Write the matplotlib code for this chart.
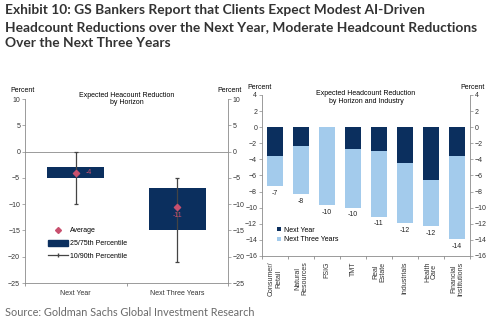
import numpy as np
import matplotlib
matplotlib.use("Agg")
import matplotlib.pyplot as plt
from matplotlib.lines import Line2D
from matplotlib.patches import Patch

# Left panel: distribution by horizon
horizons = ["Next Year", "Next Three Years"]
p25 = [-3, -7]
p75 = [-5, -15]
p10 = [0, -5]
p90 = [-10, -21]
avg = [-4.0, -10.6]
avg_labels = ["-4", "-11"]

# Right panel: by industry
industries = ["Consumer/\nRetail", "Natural\nResources", "FSIG", "TMT", "Real\nEstate",
              "Industrials", "Health\nCare", "Financial\nInstitutions"]
next_year = [-3.6, -2.3, 0.0, -2.7, -3.0, -4.5, -6.5, -3.6]
next_three = [-7.3, -8.3, -9.7, -10.0, -11.1, -11.9, -12.3, -13.9]
three_labels = ["-7", "-8", "-10", "-10", "-11", "-12", "-12", "-14"]

NAVY = "#0b2f5e"
LIGHT = "#a3cbec"
PINK = "#c8506e"
AX = "#8a8a8a"
SMALL = 5.0

plt.rcParams['font.family'] = ['Liberation Sans', 'DejaVu Sans']

fig = plt.figure(figsize=(5.0, 3.24), dpi=100)

fig.text(0.01, 0.988, "Exhibit 10: GS Bankers Report that Clients Expect Modest AI-Driven\n"
         "Headcount Reductions over the Next Year, Moderate Headcount Reductions\n"
         "Over the Next Three Years", family="Lato", weight="bold", fontsize=9.9,
         color="#333333", va="top", ha="left", linespacing=1.48)
fig.text(0.01, 0.035, "Source: Goldman Sachs Global Investment Research", family="Lato",
         fontsize=7.8, color="#6a6a6a", va="center", ha="left")


def style(ax):
    ax.spines["top"].set_visible(False)
    for s in ["left", "right", "bottom"]:
        ax.spines[s].set_color(AX)
        ax.spines[s].set_linewidth(0.6)
    ax.tick_params(axis="both", labelsize=SMALL, colors="#333333", length=2, width=0.5,
                   color=AX, pad=1.5)
    ax.tick_params(axis="y", left=True, right=True, labelleft=True, labelright=True)


# ---- left panel
ax1 = fig.add_axes([0.05, 0.1265, 0.406, 0.5675])
style(ax1)
x = np.arange(len(horizons))
ax1.axhline(0, color=AX, lw=0.6)
ax1.bar(x, np.array(p75) - np.array(p25), bottom=p25, width=0.56, color=NAVY, zorder=2)
ax1.errorbar(x, [(a + b) / 2 for a, b in zip(p10, p90)],
             yerr=[(a - b) / 2 for a, b in zip(p10, p90)], fmt="none", ecolor="#444444",
             elinewidth=0.9, capsize=1.5, capthick=0.9, zorder=3)
ax1.scatter(x, avg, marker="D", s=10, color=PINK, zorder=4)
ax1.text(x[0] + 0.1, avg[0], avg_labels[0], color=PINK, fontsize=SMALL, va="center", ha="left")
ax1.text(x[1], avg[1] - 1.6, avg_labels[1], color=PINK, fontsize=SMALL, va="center", ha="center")
ax1.set_xlim(-0.5, 1.5)
ax1.set_ylim(-25, 10)
ax1.set_yticks(np.arange(-25, 11, 5))
ax1.set_xticks(x)
ax1.set_xticklabels(horizons)
ax1.set_xticks([-0.5, 0.5, 1.5], minor=True)
ax1.tick_params(axis="x", which="major", length=0, pad=5)
ax1.tick_params(axis="x", which="minor", length=2, color=AX)
ax1.text(-0.07, 1.04, "Percent", transform=ax1.transAxes, fontsize=SMALL, ha="left")
ax1.text(1.07, 1.04, "Percent", transform=ax1.transAxes, fontsize=SMALL, ha="right")
ax1.text(0.5, 1.0, "Expected Heacount Reduction\nby Horizon", transform=ax1.transAxes,
         fontsize=SMALL, ha="center", va="center", linespacing=1.1)
handles = [Line2D([], [], marker="D", color=PINK, ls="none", markersize=3),
           Patch(color=NAVY),
           Line2D([], [], color="#444444", lw=0.9, marker="|", markersize=3)]
ax1.legend(handles, ["Average", "25/75th Percentile", "10/90th Percentile"], loc="upper left",
           bbox_to_anchor=(0.1, 0.32), frameon=False, fontsize=SMALL, handlelength=2.8,
           handleheight=1.0, handletextpad=0.3, labelspacing=0.75, borderaxespad=0)

# ---- right panel
ax2 = fig.add_axes([0.524, 0.21, 0.416, 0.4968])
style(ax2)
xi = np.arange(len(industries))
ax2.bar(xi, next_three, width=0.58, color=LIGHT, label="Next Three Years", zorder=2)
ax2.bar(xi, next_year, width=0.58, color=NAVY, label="Next Year", zorder=3)
for xv, v, lab in zip(xi, next_three, three_labels):
    ax2.text(xv, v - 0.9, lab, fontsize=SMALL, ha="center", va="center", color="#222222")
ax2.set_xlim(-0.5, len(industries) - 0.5)
ax2.set_ylim(-16, 4)
ax2.set_yticks(np.arange(-16, 5, 2))
ax2.set_xticks(xi)
ax2.set_xticklabels(industries, rotation=90, linespacing=1.0)
ax2.set_xticks(np.arange(-0.5, len(industries), 1), minor=True)
ax2.tick_params(axis="x", which="major", length=0, pad=4)
ax2.tick_params(axis="x", which="minor", length=2, color=AX)
ax2.text(-0.07, 1.04, "Percent", transform=ax2.transAxes, fontsize=SMALL, ha="left")
ax2.text(1.07, 1.04, "Percent", transform=ax2.transAxes, fontsize=SMALL, ha="right")
ax2.text(0.5, 0.985, "Expected Headcount Reduction\nby Horizon and Industry",
         transform=ax2.transAxes, fontsize=SMALL, ha="center", va="center", linespacing=1.1)
h, l = ax2.get_legend_handles_labels()
ax2.legend(h[::-1], l[::-1], loc="upper left", bbox_to_anchor=(0.06, 0.2), frameon=False,
           fontsize=SMALL, handlelength=0.6, handleheight=0.6, handletextpad=0.3,
           labelspacing=0.4, borderaxespad=0)

fig.savefig("out.png", dpi=100)
